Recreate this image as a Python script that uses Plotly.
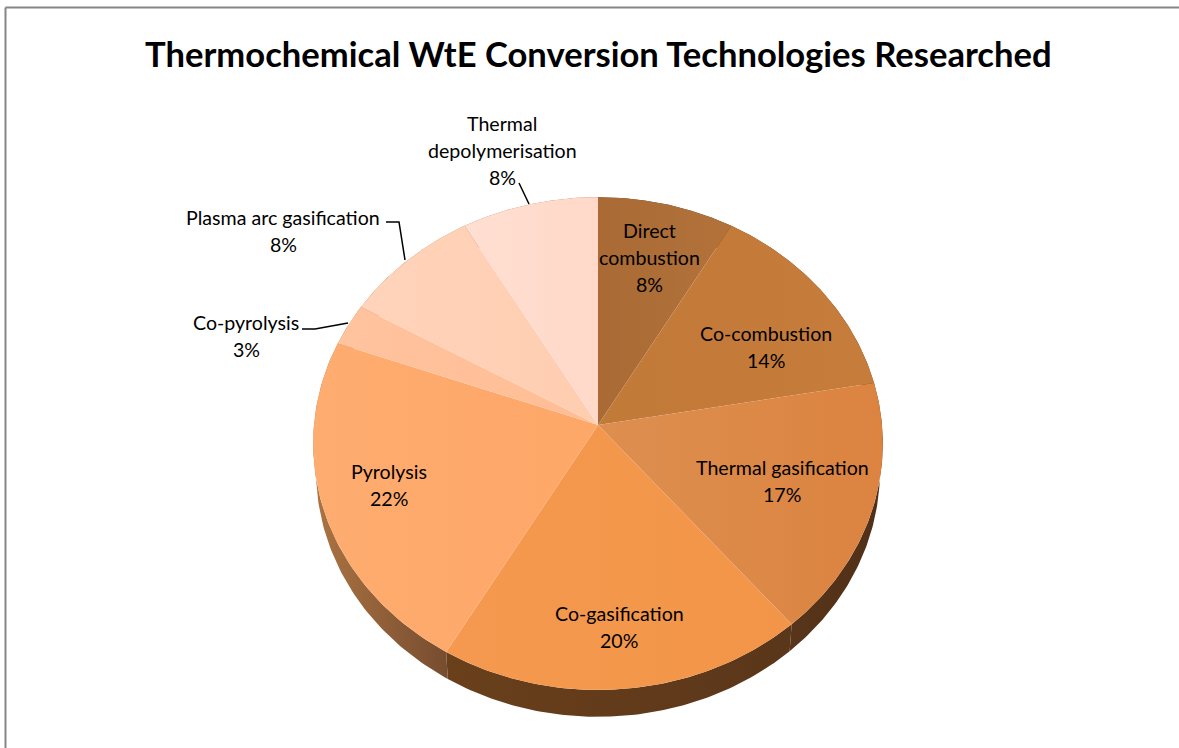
import numpy as np
import plotly.graph_objects as go

# ---- data ----
TITLE = "Thermochemical WtE Conversion Technologies Researched"
categories = ["Direct combustion", "Co-combustion", "Thermal gasification", "Co-gasification",
              "Pyrolysis", "Co-pyrolysis", "Plasma arc gasification", "Thermal depolymerisation"]
shares = [8.33, 13.89, 16.67, 19.44, 22.22, 2.78, 8.33, 8.34]
percent_labels = ["8%", "14%", "17%", "20%", "22%", "3%", "8%", "8%"]

# ---- styles ----
top_colors = [("#a96a35", "#b3723a"), ("#c27a39", "#c67c3b"), ("#dd8f50", "#dc8340"),
              ("#f4994f", "#f29548"), ("#ffac70", "#fda768"), ("#ffc39e", "#ffbd94"),
              ("#ffd4bb", "#ffcdb0"), ("#ffdfd2", "#ffd8c8")]
wall_colors = [("#5c3719", "#5c3719"), ("#5c3719", "#5c3719"), ("#58351a", "#4f3018"),
               ("#6a401b", "#5a361a"), ("#ad7442", "#764c30"), ("#ad7442", "#ad7442"),
               ("#ad7442", "#ad7442"), ("#ad7442", "#ad7442")]
label_layout = [  # (x, first line y, name lines)
    (649, 230, ["Direct", "combustion"]),
    (766, 333, ["Co-combustion"]),
    (782, 467, ["Thermal gasification"]),
    (619, 613, ["Co-gasification"]),
    (389, 471, ["Pyrolysis"]),
    (246, 322, ["Co-pyrolysis"]),
    (283, 217, ["Plasma arc gasification"]),
    (502, 123, ["Thermal", "depolymerisation"]),
]
leaders = [([519, 529], [183, 204]),
           ([386, 399, 405], [222, 222, 260]),
           ([302, 315, 348], [329, 329, 323])]

CX, CY, R, KR, D, DEPTH = 598, 425, 284.0, 245.0, 13.3, 27.5
LINE_GAP = 27
FONT = "Lato, Carlito, Calibri, sans-serif"


def project(theta, radius=1.0, drop=0.0):
    """Tilted-disc projection: angle clockwise from 12 o'clock to page position."""
    u = np.sin(theta) * radius
    v = np.cos(theta) * radius
    f = D / (D + v)
    return CX + R * u * f, CY - KR * v * f + drop * f


fig = go.Figure()
edges = np.cumsum([0.0] + shares) / sum(shares) * 2 * np.pi
spans = [np.linspace(a, b, 90) for a, b in zip(edges[:-1], edges[1:])]

# side wall first, so the top face covers its hidden part
for theta, (c0, c1), name in zip(spans, wall_colors, categories):
    x0, y0 = project(theta)
    x1, y1 = project(theta, radius=0.99, drop=DEPTH)
    fig.add_trace(go.Scatter(
        x=np.r_[x0, x1[::-1]], y=np.r_[y0, y1[::-1]], mode="lines", fill="toself",
        line=dict(width=0), fillgradient=dict(type="horizontal", colorscale=[[0, c0], [1, c1]]),
        hoverinfo="skip", showlegend=False, name=name + " side"))

# top face
for theta, (c0, c1), name, pct in zip(spans, top_colors, categories, percent_labels):
    xr, yr = project(theta)
    fig.add_trace(go.Scatter(
        x=np.r_[CX, xr, CX], y=np.r_[CY, yr, CY], mode="lines", fill="toself",
        line=dict(width=0), fillgradient=dict(type="horizontal", colorscale=[[0, c0], [1, c1]]),
        hoverinfo="text", text=f"{name}: {pct}", showlegend=False, name=name))

# leader lines
for lx, ly in leaders:
    fig.add_trace(go.Scatter(x=lx, y=ly, mode="lines", line=dict(color="#000000", width=1.5),
                             hoverinfo="skip", showlegend=False))

# data labels, one annotation per rendered line
annotations = []
for (lx, ly, lines), pct in zip(label_layout, percent_labels):
    for i, s in enumerate(lines + [pct]):
        annotations.append(dict(x=lx, y=ly + i * LINE_GAP, text=s, showarrow=False,
                                xanchor="center", yanchor="middle",
                                font=dict(family=FONT, size=19.6, color="#000000")))
annotations.append(dict(x=598, y=53, text=f"<b>{TITLE}</b>", showarrow=False, xanchor="center",
                        yanchor="middle", font=dict(family=FONT, size=34.6, color="#000000")))

border = dict(color="#868686", width=2)
fig.update_layout(
    width=1179, height=748, margin=dict(l=0, r=0, t=0, b=0),
    paper_bgcolor="#ffffff", plot_bgcolor="#ffffff", showlegend=False,
    xaxis=dict(range=[0, 1179], visible=False, fixedrange=True),
    yaxis=dict(range=[748, 0], visible=False, fixedrange=True),
    annotations=annotations,
    shapes=[dict(type="line", x0=5.5, x1=1179, y0=7.5, y1=7.5, line=border),
            dict(type="line", x0=5.5, x1=5.5, y0=7.5, y1=748, line=border)],
)
fig.write_html("out.html", config=dict(displayModeBar=False),
               post_script="document.body.style.margin='0';document.body.style.overflow='hidden';")
